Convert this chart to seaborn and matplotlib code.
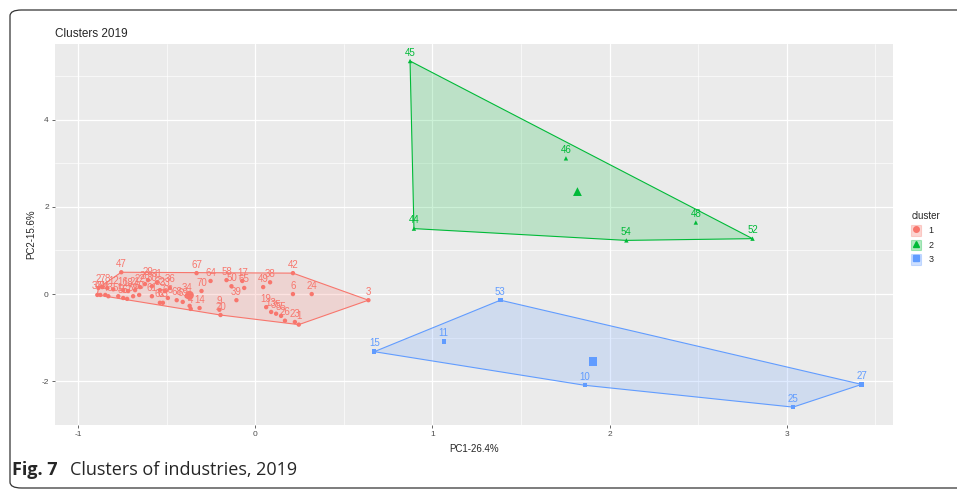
import numpy as np
import pandas as pd
import seaborn as sns
import matplotlib.pyplot as plt
from matplotlib.patches import Patch, FancyBboxPatch
from matplotlib.lines import Line2D
from matplotlib.legend_handler import HandlerTuple

# ----- data (PCA coordinates) -----
c1_labels = [1, 3, 4, 5, 6, 9, 13, 14, 17, 19, 20, 23, 24, 26, 34, 35, 38, 39, 42, 47,
             49, 50, 55, 58, 64, 65, 67, 70,
             2, 7, 8, 12, 16, 18, 21, 22, 28, 29, 30, 31, 32, 33, 36,
             37, 40, 41, 43, 51, 56, 57, 59, 60, 61, 62, 63, 66, 68, 69]
c1_pc1 = [0.246, 0.639, -0.364, -0.370, 0.213, -0.202, 0.090, -0.314, -0.073, 0.062,
          -0.196, 0.224, 0.319, 0.168, -0.387, 0.118, 0.084, -0.106, 0.213, -0.756,
          0.045, -0.134, 0.146, -0.162, -0.252, -0.062, -0.331, -0.303,
          -0.885, -0.863, -0.835, -0.801, -0.745, -0.717, -0.678, -0.650, -0.622, -0.605,
          -0.583, -0.555, -0.538, -0.510, -0.482,
          -0.891, -0.874, -0.846, -0.829, -0.773, -0.745, -0.723, -0.689, -0.655, -0.583,
          -0.538, -0.521, -0.493, -0.443, -0.409]
c1_pc2 = [-0.70, -0.14, -0.34, -0.27, 0.00, -0.36, -0.41, -0.32, 0.30, -0.30,
          -0.48, -0.64, 0.00, -0.61, -0.05, -0.45, 0.27, -0.14, 0.48, 0.50,
          0.16, 0.18, -0.50, 0.32, 0.30, 0.14, 0.48, 0.07,
          0.14, 0.16, 0.14, 0.11, 0.09, 0.07, 0.09, 0.16, 0.23, 0.32,
          0.18, 0.27, 0.09, 0.07, 0.14,
          -0.02, -0.02, -0.02, -0.05, -0.05, -0.09, -0.11, -0.05, -0.02, -0.05,
          -0.20, -0.20, -0.09, -0.14, -0.18]

c2_labels = [45, 44, 46, 54, 48, 52]
c2_pc1 = [0.874, 0.896, 1.754, 2.095, 2.487, 2.807]
c2_pc2 = [5.34, 1.50, 3.11, 1.23, 1.64, 1.27]

c3_labels = [53, 15, 11, 10, 25, 27]
c3_pc1 = [1.384, 0.672, 1.064, 1.860, 3.036, 3.423]
c3_pc2 = [-0.14, -1.32, -1.09, -2.09, -2.59, -2.07]

cluster_names = ["1", "2", "3"]
colors = ["#F8766D", "#00BA38", "#619CFF"]
markers = ["o", "^", "s"]

df = pd.concat([
    pd.DataFrame({"label": c1_labels, "PC1": c1_pc1, "PC2": c1_pc2, "cluster": "1"}),
    pd.DataFrame({"label": c2_labels, "PC1": c2_pc1, "PC2": c2_pc2, "cluster": "2"}),
    pd.DataFrame({"label": c3_labels, "PC1": c3_pc1, "PC2": c3_pc2, "cluster": "3"}),
], ignore_index=True)
centers = df.groupby("cluster")[["PC1", "PC2"]].mean().reset_index()


def hull(points):
    # monotone chain convex hull
    pts = sorted(set(map(tuple, points)))
    def cross(o, a, b):
        return (a[0] - o[0]) * (b[1] - o[1]) - (a[1] - o[1]) * (b[0] - o[0])
    lower, upper = [], []
    for p in pts:
        while len(lower) >= 2 and cross(lower[-2], lower[-1], p) <= 0:
            lower.pop()
        lower.append(p)
    for p in reversed(pts):
        while len(upper) >= 2 and cross(upper[-2], upper[-1], p) <= 0:
            upper.pop()
        upper.append(p)
    return np.array(lower[:-1] + upper[:-1])


sns.set_theme(style="darkgrid", rc={"axes.facecolor": "#EBEBEB", "grid.color": "white"})
plt.rcParams["font.family"] = ["Liberation Sans", "DejaVu Sans"]
plt.rcParams["axes.unicode_minus"] = False

fig = plt.figure(figsize=(9.57, 4.94), dpi=100)
ax = fig.add_axes([55 / 957, 69 / 494, 838 / 957, 381 / 494])

for name, col in zip(cluster_names, colors):
    sub = df[df["cluster"] == name]
    h = hull(sub[["PC1", "PC2"]].values)
    ax.fill(h[:, 0], h[:, 1], facecolor=col, alpha=0.2, edgecolor="none", zorder=1)
    ax.fill(h[:, 0], h[:, 1], facecolor="none", edgecolor=col, lw=0.8, zorder=2)

sns.scatterplot(data=df, x="PC1", y="PC2", hue="cluster", style="cluster",
                palette=colors, markers=markers, s=10, linewidth=0,
                legend=False, ax=ax, zorder=3)
sns.scatterplot(data=centers, x="PC1", y="PC2", hue="cluster", style="cluster",
                palette=colors, markers=markers, s=40, linewidth=0,
                legend=False, ax=ax, zorder=4)

for _, r in df.iterrows():
    col = colors[cluster_names.index(r["cluster"])]
    ax.annotate(str(r["label"]), (r["PC1"], r["PC2"]), xytext=(0, 2.5),
                textcoords="offset points", ha="center", va="bottom",
                fontsize=7, color=col, zorder=5)

ax.set_xlim(-1.13, 3.6)
ax.set_ylim(-2.93, 5.73)
ax.set_xticks([-1, 0, 1, 2, 3])
ax.set_yticks([-2, 0, 2, 4])
ax.set_xticks([-0.5, 0.5, 1.5, 2.5, 3.5], minor=True)
ax.set_yticks([-3, -1, 1, 3, 5], minor=True)
ax.grid(which="major", color="white", lw=0.9)
ax.grid(which="minor", color="white", lw=0.45)
ax.tick_params(axis="both", which="major", labelsize=6, colors="#4D4D4D",
               length=2.5, width=0.6, pad=2, bottom=True, left=True)
ax.tick_params(which="minor", length=0)
ax.set_xlabel("PC1-26.4%", fontsize=7, labelpad=4)
ax.set_ylabel("PC2-15.6%", fontsize=7, labelpad=4)
ax.set_title("Clusters 2019", loc="left", fontsize=8.5, pad=5)
for s in ax.spines.values():
    s.set_visible(False)

handles = [(Patch(facecolor=c, alpha=0.3, edgecolor=c, lw=0.8),
            Line2D([], [], marker=m, color=c, ls="none", markersize=4))
           for c, m in zip(colors, markers)]
leg = fig.legend(handles, cluster_names, title="cluster", loc="upper left",
                 bbox_to_anchor=(903 / 957, 1 - 203 / 494), frameon=False,
                 fontsize=6.5, title_fontsize=7, handlelength=1.1, handleheight=1.4,
                 handletextpad=0.8, labelspacing=0.45,
                 handler_map={tuple: HandlerTuple(ndivide=1, pad=0)})
leg._legend_box.align = "left"

# journal frame and caption
frame = FancyBboxPatch((10 / 957, 6 / 494), 1.1, 478 / 494,
                       boxstyle="round,pad=0,rounding_size=0.012",
                       transform=fig.transFigure, fill=False,
                       edgecolor="#333333", lw=0.9)
fig.patches.append(frame)
fig.text(12 / 957, 1 - 470 / 494, "Fig. 7", fontsize=13, fontweight="bold",
         va="center", ha="left", family=["Open Sans", "DejaVu Sans"])
fig.text(70 / 957, 1 - 470 / 494, "Clusters of industries, 2019", fontsize=13,
         va="center", ha="left", family=["Open Sans", "DejaVu Sans"])

fig.savefig("out.png", dpi=100)
